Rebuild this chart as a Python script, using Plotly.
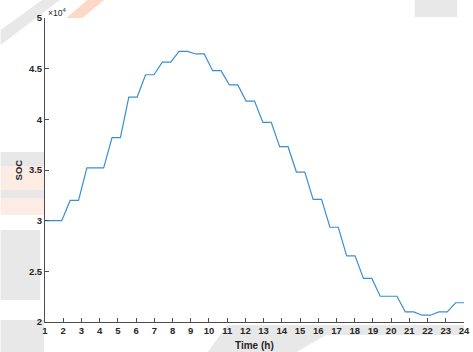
import plotly.graph_objects as go

# Time axis samples (h) and state of charge (x10^4)
time_h = [1.00, 1.46, 1.92, 2.38, 2.84, 3.30, 3.76, 4.22, 4.68, 5.14,
          5.60, 6.06, 6.52, 6.98, 7.44, 7.90, 8.36, 8.82, 9.28, 9.74,
          10.20, 10.66, 11.12, 11.58, 12.04, 12.50, 12.96, 13.42, 13.88, 14.34,
          14.80, 15.26, 15.72, 16.18, 16.64, 17.10, 17.56, 18.02, 18.48, 18.94,
          19.40, 19.86, 20.32, 20.78, 21.24, 21.70, 22.16, 22.62, 23.08, 23.54,
          24.00]
soc = [3.00, 3.00, 3.00, 3.20, 3.20, 3.52, 3.52, 3.52, 3.82, 3.82,
       4.22, 4.22, 4.44, 4.44, 4.565, 4.565, 4.67, 4.67, 4.645, 4.645,
       4.48, 4.48, 4.34, 4.34, 4.18, 4.18, 3.97, 3.97, 3.73, 3.73,
       3.48, 3.48, 3.21, 3.21, 2.935, 2.935, 2.653, 2.653, 2.43, 2.43,
       2.254, 2.254, 2.254, 2.10, 2.10, 2.067, 2.067, 2.10, 2.10, 2.19,
       2.19]
soc = [v * 1e4 for v in soc]

x_ticks = list(range(1, 25))
y_ticks = [20000, 25000, 30000, 35000, 40000, 45000, 50000]
y_tick_text = ["2", "2.5", "3", "3.5", "4", "4.5", "5"]

W, H = 473, 352
L, R, T, B = 45, 3, 18, 30
PW, PH = W - L - R, H - T - B

def px(x):
    return (x - L) / PW

def py(y):
    return (H - B - y) / PH

fig = go.Figure()
fig.add_trace(go.Scatter(x=time_h, y=soc, mode="lines",
                         line=dict(color="#3a8fd3", width=1.2),
                         hoverinfo="skip", showlegend=False))

# faint background watermark approximations (outside the axes)
def poly(pts, color):
    path = "M " + " L ".join(f"{px(a):.4f},{py(b):.4f}" for a, b in pts) + " Z"
    return dict(type="path", xref="paper", yref="paper", path=path,
                fillcolor=color, line=dict(width=0), layer="below")

gray = "#e8e8e8"
peach = "#fdece4"
orange = "#fcd9c6"
shapes = [
    poly([(0, 30), (0, 45), (60, 0), (42, 0)], gray),
    poly([(62, 22), (78, 22), (105, 0), (88, 0)], orange),
    poly([(420, 0), (463, 0), (463, 17), (420, 17)], gray),
    poly([(0, 152), (44, 152), (44, 166), (0, 166)], gray),
    poly([(0, 166), (44, 166), (44, 190), (0, 190)], peach),
    poly([(0, 190), (44, 190), (44, 198), (0, 198)], gray),
    poly([(0, 198), (44, 198), (44, 215), (0, 215)], peach),
    poly([(0, 230), (40, 230), (40, 300), (0, 300)], gray),
    poly([(0, 320), (44, 320), (44, 352), (0, 352)], gray),
    poly([(210, 352), (230, 325), (470, 325), (470, 335), (330, 335), (300, 352)], gray),
    # white axes background
    dict(type="rect", xref="paper", yref="paper", x0=0, x1=1, y0=0, y1=1,
         fillcolor="white", line=dict(width=0), layer="below"),
]

axis_font = dict(family="Liberation Sans, Arial, sans-serif", size=9.5,
                 color="#262626", weight="bold")

fig.update_layout(
    width=W, height=H,
    margin=dict(l=L, r=R, t=T, b=B, pad=0),
    paper_bgcolor="white", plot_bgcolor="white",
    shapes=shapes,
    xaxis=dict(range=[1, 24], tickvals=x_ticks, ticks="inside", ticklen=4,
               tickcolor="#4d4d4d", showline=True, linecolor="#4d4d4d",
               linewidth=1, showgrid=False, zeroline=False,
               tickfont=axis_font, mirror=False, ticklabeloverflow="allow"),
    yaxis=dict(range=[20000, 50000], tickvals=y_ticks, ticktext=y_tick_text,
               ticks="inside", ticklen=4, tickcolor="#4d4d4d", showline=True,
               linecolor="#4d4d4d", linewidth=1, showgrid=False,
               zeroline=False, tickfont=axis_font, mirror=False,
               ticklabeloverflow="allow"),
    annotations=[
        dict(text="Time (h)", xref="paper", yref="paper", x=px(258), y=py(345),
             xanchor="center", yanchor="middle", showarrow=False,
             font=dict(family="Liberation Sans, Arial, sans-serif", size=10,
                       color="#262626", weight="bold")),
        dict(text="SOC", xref="paper", yref="paper", x=px(18), y=py(170),
             xanchor="center", yanchor="middle", showarrow=False, textangle=-90,
             font=dict(family="Liberation Sans, Arial, sans-serif", size=9.5,
                       color="#262626", weight="bold")),
        dict(text="×10<sup>4</sup>", xref="paper", yref="paper", x=px(46), y=py(13),
             xanchor="left", yanchor="middle", showarrow=False,
             font=dict(family="Liberation Sans, Arial, sans-serif", size=8.5,
                       color="#262626")),
    ],
)

fig.write_html("out.html")
